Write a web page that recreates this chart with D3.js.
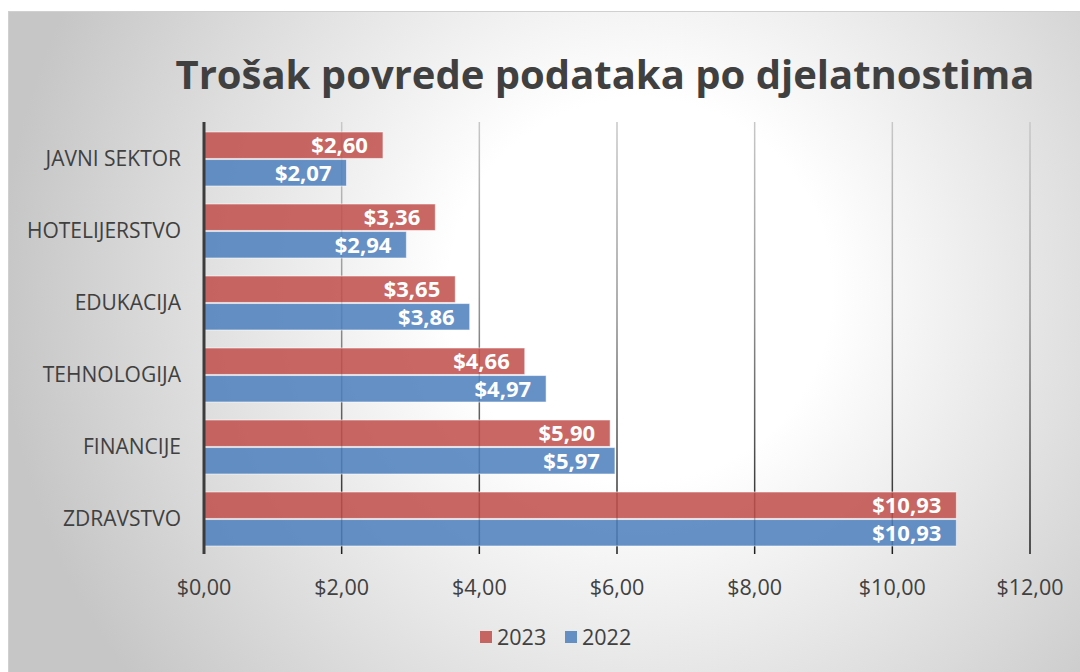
<!DOCTYPE html>
<html>
<head>
<meta charset="utf-8">
<script src="https://cdn.jsdelivr.net/npm/d3@7"></script>
<style>
  html, body { margin: 0; padding: 0; background: #fff; }
  svg { display: block; font-family: "Open Sans", "Liberation Sans", sans-serif; }
</style>
</head>
<body>
<div id="chart"></div>
<script>
'use strict';

// data
var categories = ['JAVNI SEKTOR', 'HOTELIJERSTVO', 'EDUKACIJA', 'TEHNOLOGIJA', 'FINANCIJE', 'ZDRAVSTVO'];
var seriesNames = ['2023', '2022'];
var values2023 = [2.60, 3.36, 3.65, 4.66, 5.90, 10.93];
var values2022 = [2.07, 2.94, 3.86, 4.97, 5.97, 10.93];
var xTicks = [0, 2, 4, 6, 8, 10, 12];
var titleText = 'Trošak povrede podataka po djelatnostima';

var colors = { '2023': '#c0504d', '2022': '#4f81bd' };

var W = 1080, H = 672;
var margin = { top: 122, right: 50, bottom: 118, left: 204 };

var locale = d3.formatLocale({ decimal: ',', thousands: '.', grouping: [3], currency: ['$', ''] });
var fmt = locale.format('$.2f');

var svg = d3.select('#chart').append('svg')
  .attr('width', W)
  .attr('height', H);

var defs = svg.append('defs');

// background gradient
var bg = defs.append('radialGradient')
  .attr('id', 'bg')
  .attr('gradientUnits', 'userSpaceOnUse')
  .attr('cx', 640).attr('cy', 290).attr('r', 640);
bg.append('stop').attr('offset', '0%').attr('stop-color', '#ffffff');
bg.append('stop').attr('offset', '30%').attr('stop-color', '#ffffff');
bg.append('stop').attr('offset', '100%').attr('stop-color', '#c6c6c6');

// gridline gradient: light at top, dark at bottom
var gg = defs.append('linearGradient')
  .attr('id', 'grid')
  .attr('gradientUnits', 'userSpaceOnUse')
  .attr('x1', 0).attr('y1', margin.top).attr('x2', 0).attr('y2', H - margin.bottom);
gg.append('stop').attr('offset', '0%').attr('stop-color', '#c8c8c8');
gg.append('stop').attr('offset', '45%').attr('stop-color', '#909090');
gg.append('stop').attr('offset', '100%').attr('stop-color', '#1e1e1e');

svg.append('rect')
  .attr('x', 8.5).attr('y', 11.5)
  .attr('width', W).attr('height', H)
  .attr('fill', 'url(#bg)')
  .attr('stroke', '#d0d0d0');

// title
svg.append('text')
  .attr('x', 605)
  .attr('y', 89)
  .attr('text-anchor', 'middle')
  .attr('font-size', 40)
  .attr('font-weight', 'bold')
  .attr('fill', '#404040')
  .text(titleText);

// scales
var xScale = d3.scaleLinear()
  .domain([0, 12])
  .range([margin.left, W - margin.right]);

var yScale = d3.scaleBand()
  .domain(categories)
  .range([margin.top, H - margin.bottom])
  .paddingInner(0)
  .paddingOuter(0);

var subScale = d3.scaleBand()
  .domain(seriesNames)
  .range([10, yScale.bandwidth() - 8])
  .paddingInner(0.04);

// gridlines
svg.append('g')
  .attr('class', 'grid')
  .selectAll('line')
  .data(xTicks.slice(1))
  .enter()
  .append('line')
  .attr('x1', function(d) { return xScale(d); })
  .attr('x2', function(d) { return xScale(d); })
  .attr('y1', margin.top)
  .attr('y2', H - margin.bottom)
  .attr('stroke', 'url(#grid)')
  .attr('stroke-width', 1.5);

// bars
var rows = categories.map(function(c, i) {
  return { cat: c, vals: [{ s: '2023', v: values2023[i] }, { s: '2022', v: values2022[i] }] };
});

var groups = svg.append('g')
  .attr('class', 'bars')
  .selectAll('g')
  .data(rows)
  .enter()
  .append('g')
  .attr('transform', function(d) { return 'translate(0,' + yScale(d.cat) + ')'; });

var bar = groups.selectAll('g')
  .data(function(d) { return d.vals; })
  .enter()
  .append('g');

bar.append('rect')
  .attr('x', xScale(0))
  .attr('y', function(d) { return subScale(d.s); })
  .attr('width', function(d) { return xScale(d.v) - xScale(0); })
  .attr('height', subScale.bandwidth())
  .attr('fill', function(d) { return colors[d.s]; })
  .attr('fill-opacity', 0.87)
  .attr('stroke', 'rgba(255,255,255,0.55)')
  .attr('stroke-width', 1);

bar.append('text')
  .attr('x', function(d) { return xScale(d.v) - 15; })
  .attr('y', function(d) { return subScale(d.s) + subScale.bandwidth() / 2; })
  .attr('dy', '0.36em')
  .attr('text-anchor', 'end')
  .attr('font-size', 22)
  .attr('font-weight', 'bold')
  .attr('fill', '#ffffff')
  .text(function(d) { return fmt(d.v); });

// y axis line
svg.append('line')
  .attr('x1', xScale(0)).attr('x2', xScale(0))
  .attr('y1', margin.top).attr('y2', H - margin.bottom)
  .attr('stroke', '#3c3c3c')
  .attr('stroke-width', 3);

// category labels
svg.append('g')
  .selectAll('text')
  .data(categories)
  .enter()
  .append('text')
  .attr('x', 181)
  .attr('y', function(d) { return yScale(d) + yScale.bandwidth() / 2; })
  .attr('dy', '0.36em')
  .attr('text-anchor', 'end')
  .attr('font-size', 21)
  .attr('fill', '#404040')
  .text(function(d) { return d; });

// x tick labels
svg.append('g')
  .selectAll('text')
  .data(xTicks)
  .enter()
  .append('text')
  .attr('x', function(d) { return xScale(d); })
  .attr('y', 595)
  .attr('text-anchor', 'middle')
  .attr('font-size', 21.5)
  .attr('fill', '#404040')
  .text(function(d) { return fmt(d); });

// legend
var legend = svg.append('g')
  .attr('transform', 'translate(480,637)');
var leg = legend.selectAll('g')
  .data(seriesNames)
  .enter()
  .append('g')
  .attr('transform', function(d, i) { return 'translate(' + (i * 85) + ',0)'; });
leg.append('rect')
  .attr('x', 0).attr('y', -6)
  .attr('width', 12).attr('height', 12)
  .attr('fill', function(d) { return colors[d]; })
  .attr('fill-opacity', 0.87);
leg.append('text')
  .attr('x', 17)
  .attr('dy', '0.36em')
  .attr('font-size', 21.5)
  .attr('fill', '#404040')
  .text(function(d) { return d; });
</script>
</body>
</html>
